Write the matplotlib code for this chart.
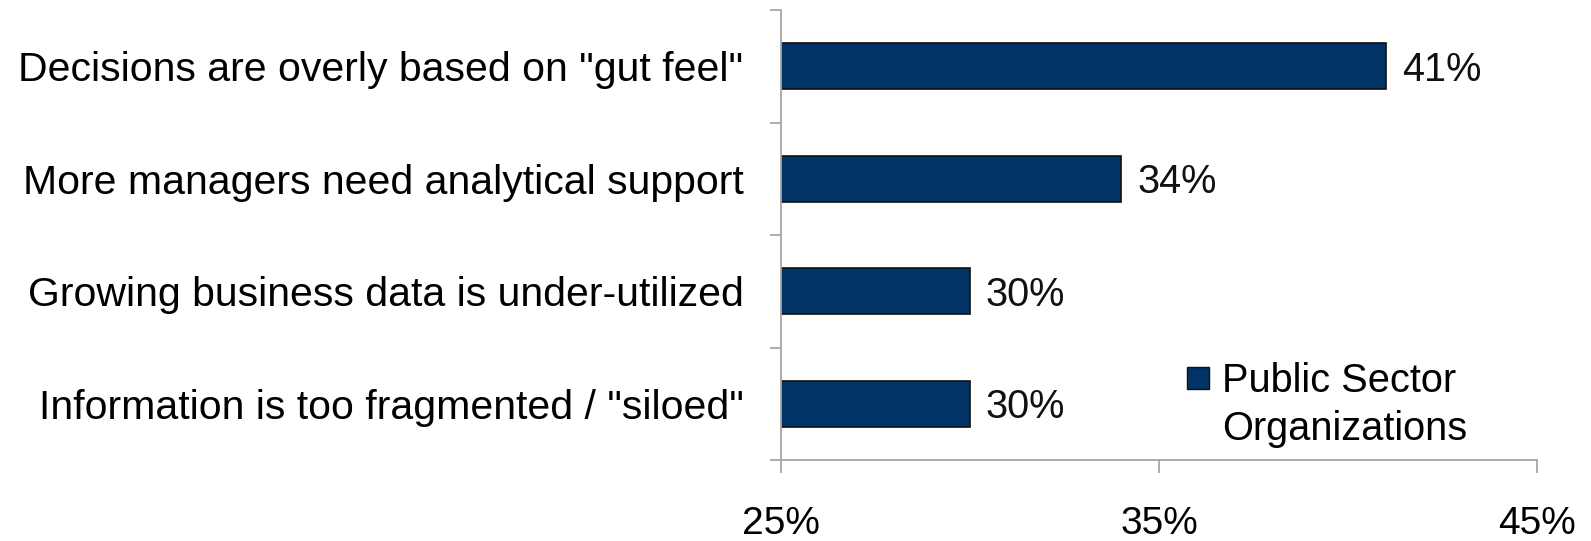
import numpy as np
import matplotlib.pyplot as plt
from matplotlib.patches import Patch

plt.rcParams['font.family'] = ['Liberation Sans', 'DejaVu Sans']

categories = [
    'Decisions are overly based on "gut feel"',
    'More managers need analytical support',
    'Growing business data is under-utilized',
    'Information is too fragmented / "siloed"',
]
values = [41, 34, 30, 30]
xticks = [25, 35, 45]
series_lines = ['Public Sector', 'Organizations']

bar_color = '#003366'
axis_color = '#a6a6a6'

fig = plt.figure(figsize=(15.91, 5.41), dpi=100)
ax = fig.add_axes([781 / 1591, 1 - 460 / 541, (1537 - 781) / 1591, 450 / 541])

y = np.arange(len(categories))
ax.barh(y, values, height=0.41, left=0, color=bar_color, edgecolor='#111111', linewidth=1.2)
for yi, v in zip(y, values):
    ax.annotate(f'{v}%', xy=(v, yi), xytext=(11.5, -10.3), textcoords='offset points',
                va='baseline', ha='left', fontsize=28.6, color='#111111')

ax.set_xlim(25, 45)
ax.set_ylim(len(categories) - 0.5, -0.5)

ax.set_xticks(xticks)
ax.set_xticklabels([f'{t}%' for t in xticks], fontsize=28)
ax.tick_params(axis='x', length=9.4, width=1.3, color=axis_color, pad=24)

# boundary ticks on y, labels at category centres
ax.set_yticks(np.arange(-0.5, len(categories)))
ax.set_yticklabels([])
ax.set_yticks(y, minor=True)
ax.set_yticklabels(categories, minor=True, fontsize=29.5)
ax.tick_params(axis='y', which='major', length=8, width=1.3, color=axis_color)
ax.tick_params(axis='y', which='minor', length=0, pad=27)

for s in ['top', 'right']:
    ax.spines[s].set_visible(False)
for s in ['left', 'bottom']:
    ax.spines[s].set_color(axis_color)
    ax.spines[s].set_linewidth(1.3)

# legend: square sits beside the first line of the two-line label
handles = [Patch(facecolor=bar_color, edgecolor='#111111', linewidth=1), Patch(visible=False)]
ax.legend(handles, series_lines, loc='upper left', bbox_to_anchor=(1187 / 1591, 1 - 362 / 541),
          bbox_transform=fig.transFigure, frameon=False, fontsize=28.6, handlelength=0.55,
          handleheight=0.5, handletextpad=0.33, borderpad=0, borderaxespad=0, labelspacing=0.25)

fig.savefig('out.png', dpi=100)
